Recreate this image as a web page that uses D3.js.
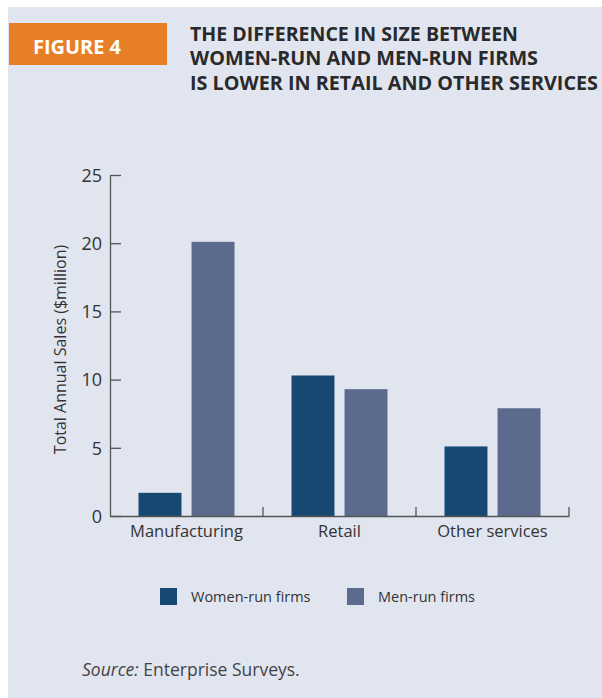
<!DOCTYPE html>
<html>
<head>
<meta charset="utf-8">
<script src="https://cdn.jsdelivr.net/npm/d3@7"></script>
<style>
  body { margin: 0; background: #fff; }
  svg text { font-family: "Open Sans", "Noto Sans", sans-serif; }
</style>
</head>
<body>
<div class="chart"></div>
<script>
// data
const categories = ['Manufacturing', 'Retail', 'Other services'];
const series_names = ['Women-run firms', 'Men-run firms'];
const women_values = [1.7, 10.3, 5.1];
const men_values = [20.1, 9.3, 7.9];
const y_ticks = [0, 5, 10, 15, 20, 25];
const title_lines = ['THE DIFFERENCE IN SIZE BETWEEN', 'WOMEN-RUN AND MEN-RUN FIRMS', 'IS LOWER IN RETAIL AND OTHER SERVICES'];

const colors = {'Women-run firms': '#174872', 'Men-run firms': '#5c6b8d'};

const chart_data = categories.map((c, i) => ({
    category: c,
    values: [
        {series: series_names[0], value: women_values[i]},
        {series: series_names[1], value: men_values[i]}
    ]
}));

const svg_width = 602, svg_height = 698;
const svg = d3.select('.chart').append('svg')
    .attr('width', svg_width)
    .attr('height', svg_height);

// panel background
svg.append('rect')
    .attr('x', 8).attr('y', 7)
    .attr('width', svg_width - 8).attr('height', svg_height - 7)
    .style('fill', '#e1e5f0');

// figure label
svg.append('rect')
    .attr('x', 9).attr('y', 23)
    .attr('width', 158).attr('height', 42)
    .style('fill', '#e67f25');
svg.append('text')
    .attr('x', 33).attr('y', 54)
    .attr('textLength', 88).attr('lengthAdjust', 'spacingAndGlyphs')
    .style('font-size', '20px').style('font-weight', 700)
    .style('fill', '#fff')
    .text('FIGURE 4');

// title
const title_widths = [328, 348, 408];
const title_base = [41, 65, 90];
svg.append('g').selectAll('text')
    .data(title_lines)
    .join('text')
    .attr('x', 190)
    .attr('y', (d, i) => title_base[i])
    .attr('textLength', (d, i) => title_widths[i])
    .attr('lengthAdjust', 'spacingAndGlyphs')
    .style('font-size', '19px').style('font-weight', 700)
    .style('fill', '#2a2a2a')
    .text(d => d);

// scales
const chart_margin = {top: 175, left: 110, right: 33, bottom: 182};
const chart_width = svg_width - chart_margin.left - chart_margin.right;
const chart_height = svg_height - chart_margin.top - chart_margin.bottom;

const x_scale = d3.scaleBand()
    .domain(categories)
    .range([0, chart_width]);
const x_inner = d3.scaleBand()
    .domain(series_names)
    .range([0, 96])
    .paddingInner(0.19);
const y_scale = d3.scaleLinear()
    .domain([0, 25])
    .range([chart_height, 0]);

const g = svg.append('g')
    .attr('transform', `translate(${chart_margin.left}, ${chart_margin.top})`);

// bars
const group_offset = (x_scale.bandwidth() - 96) / 2;
g.selectAll('.group')
    .data(chart_data)
    .join('g')
    .attr('class', 'group')
    .attr('transform', d => `translate(${x_scale(d.category) + group_offset}, 0)`)
    .selectAll('rect')
    .data(d => d.values)
    .join('rect')
    .attr('x', d => x_inner(d.series))
    .attr('y', d => y_scale(d.value))
    .attr('width', x_inner.bandwidth())
    .attr('height', d => chart_height - y_scale(d.value))
    .style('fill', d => colors[d.series]);

// y axis
const y_axis = d3.axisLeft(y_scale)
    .tickValues(y_ticks)
    .tickSizeInner(-11)
    .tickSizeOuter(0)
    .tickPadding(8);
const y_axis_draw = g.append('g').attr('class', 'y axis').call(y_axis);
y_axis_draw.select('.domain').style('stroke', '#555').style('stroke-width', 1.3);
y_axis_draw.selectAll('.tick line').style('stroke', '#555').style('stroke-width', 1.3);
y_axis_draw.selectAll('text')
    .style('font-size', '18px').style('fill', '#333')
    .attr('dy', '0.35em');

// x axis
const x_axis = d3.axisBottom(x_scale).tickSize(0).tickPadding(9);
const x_axis_draw = g.append('g')
    .attr('class', 'x axis')
    .attr('transform', `translate(0, ${chart_height})`)
    .call(x_axis);
x_axis_draw.select('.domain').style('stroke', '#555').style('stroke-width', 1.3);
x_axis_draw.selectAll('text')
    .style('font-size', '16.5px').style('fill', '#333');
// separators between categories
x_axis_draw.selectAll('.sep')
    .data(categories)
    .join('line')
    .attr('class', 'sep')
    .attr('x1', d => x_scale(d) + x_scale.bandwidth())
    .attr('x2', d => x_scale(d) + x_scale.bandwidth())
    .attr('y1', 0).attr('y2', -9)
    .style('stroke', '#555').style('stroke-width', 1.3);

// y axis title
g.append('text')
    .attr('transform', `translate(-44, ${chart_height / 2 + 4}) rotate(-90)`)
    .attr('text-anchor', 'middle')
    .style('font-size', '16px').style('fill', '#333')
    .text('Total Annual Sales ($million)');

// legend
const legend_x = [160, 347];
const legend = svg.append('g').selectAll('g')
    .data(series_names)
    .join('g')
    .attr('transform', (d, i) => `translate(${legend_x[i]}, 588)`);
legend.append('rect')
    .attr('width', 17).attr('height', 17)
    .style('fill', d => colors[d]);
legend.append('text')
    .attr('x', 31).attr('y', 13.5)
    .style('font-size', '14.5px').style('fill', '#333')
    .text(d => d);

// source
const source = svg.append('text')
    .attr('x', 82).attr('y', 676)
    .style('font-size', '17.5px').style('fill', '#444');
source.append('tspan').style('font-style', 'italic').text('Source:');
source.append('tspan').text(' Enterprise Surveys.');
</script>
</body>
</html>
